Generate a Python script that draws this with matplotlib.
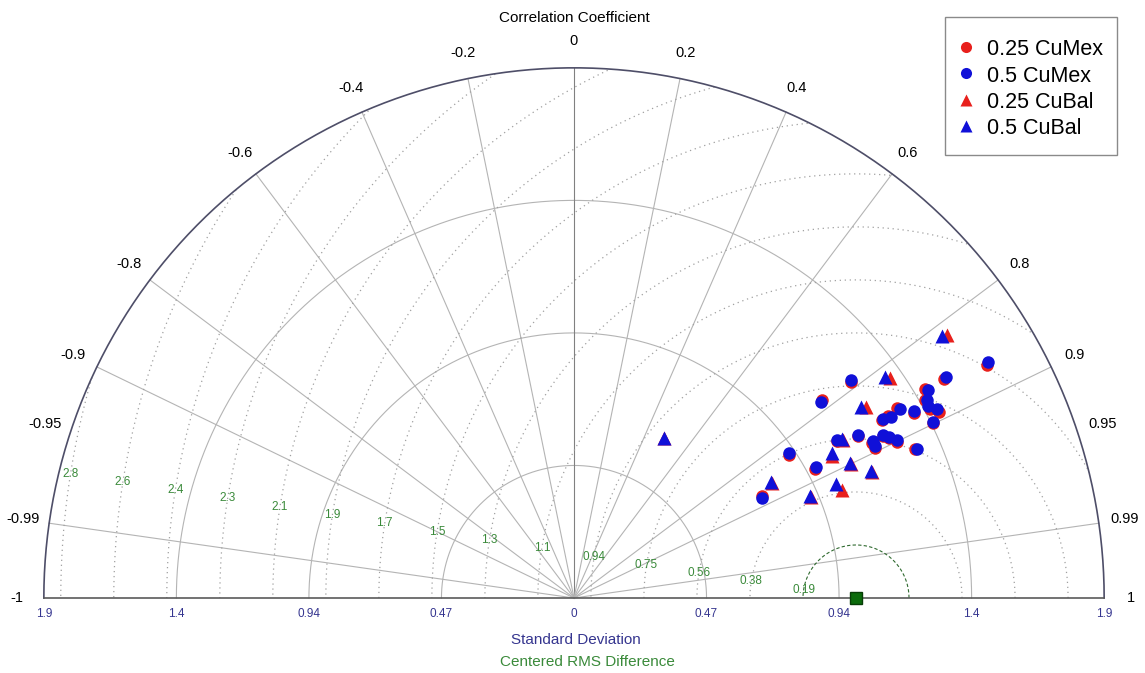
import matplotlib
matplotlib.use("Agg")
import matplotlib.pyplot as plt
import numpy as np
from matplotlib.patches import Rectangle, Wedge

plt.rcParams["font.family"] = ["Liberation Sans", "DejaVu Sans"]

# Diagram frame
STD_MAX = 1.88
REF_STD = 1.0
STD_ARCS = [0.47, 0.94, 1.41]
STD_TICKS = [-1.88, -1.41, -0.94, -0.47, 0.0, 0.47, 0.94, 1.41, 1.88]
STD_TICK_LABELS = ["1.9", "1.4", "0.94", "0.47", "0", "0.47", "0.94", "1.4", "1.9"]
CORR_TICKS = [-1, -0.99, -0.95, -0.9, -0.8, -0.6, -0.4, -0.2, 0,
              0.2, 0.4, 0.6, 0.8, 0.9, 0.95, 0.99, 1]
CORR_TICK_LABELS = ["-1", "-0.99", "-0.95", "-0.9", "-0.8", "-0.6", "-0.4", "-0.2", "0",
                    "0.2", "0.4", "0.6", "0.8", "0.9", "0.95", "0.99", "1"]
CORR_SPOKES = [-0.99, -0.9, -0.8, -0.6, -0.4, -0.2, 0, 0.2, 0.4, 0.6, 0.8, 0.9, 0.99]
RMS_STEP = 0.188
RMS_LABELS = ["0.19", "0.38", "0.56", "0.75", "0.94", "1.1", "1.3", "1.5",
              "1.7", "1.9", "2.1", "2.3", "2.4", "2.6", "2.8"]

SERIES_NAMES = ["0.25 CuMex", "0.5 CuMex", "0.25 CuBal", "0.5 CuBal"]

# 0.25 CuMex
cumex25_std = [1.680, 1.525, 1.244, 1.125, 1.447, 1.430, 1.431, 1.452, 1.415, 1.373,
               1.328, 1.287, 1.262, 1.159, 1.085, 1.190, 1.237, 1.252, 1.271, 1.193,
               1.319, 0.916, 0.969, 0.759]
cumex25_corr = [0.871, 0.861, 0.789, 0.782, 0.859, 0.871, 0.883, 0.891, 0.899, 0.879,
                0.862, 0.865, 0.866, 0.868, 0.859, 0.887, 0.886, 0.891, 0.900, 0.895,
                0.916, 0.832, 0.881, 0.878]

# 0.5 CuMex
cumex5_std = [1.690, 1.534, 1.250, 1.119, 1.457, 1.435, 1.428, 1.451, 1.418, 1.376,
              1.336, 1.295, 1.266, 1.161, 1.088, 1.197, 1.239, 1.255, 1.275, 1.196,
              1.326, 0.920, 0.976, 0.756]
cumex5_corr = [0.869, 0.860, 0.786, 0.783, 0.862, 0.872, 0.879, 0.887, 0.898, 0.876,
               0.865, 0.868, 0.865, 0.867, 0.857, 0.885, 0.885, 0.890, 0.898, 0.893,
               0.917, 0.828, 0.879, 0.882]

# 0.25 CuBal
cubal25_std = [1.619, 1.366, 1.237, 0.653, 1.108, 1.045, 1.092, 1.148, 0.812, 1.025, 0.915]
cubal25_corr = [0.817, 0.820, 0.837, 0.491, 0.862, 0.876, 0.900, 0.921, 0.864, 0.927, 0.920]

# 0.5 CuBal
cubal5_std = [1.602, 1.353, 1.223, 0.651, 1.105, 1.049, 1.090, 1.145, 0.811, 1.013, 0.912]
cubal5_corr = [0.815, 0.815, 0.832, 0.490, 0.860, 0.872, 0.898, 0.920, 0.862, 0.917, 0.918]

GRID = "#b4b4b4"
NAVY = "#35358f"
GREEN = "#3a8a3a"
RED = "#e8201c"
BLUE = "#1010d8"
STYLES = [("o", RED), ("o", BLUE), ("^", RED), ("^", BLUE)]


def to_xy(std, corr):
    std = np.asarray(std, dtype=float)
    corr = np.asarray(corr, dtype=float)
    theta = np.arccos(corr)
    return std * np.cos(theta), std * np.sin(theta)


def draw_frame(ax):
    t = np.linspace(0, np.pi, 400)
    clip = Wedge((0, 0), STD_MAX, 0, 180, transform=ax.transData)

    # std-dev arcs
    for s in STD_ARCS:
        ax.plot(s * np.cos(t), s * np.sin(t), color=GRID, lw=0.8, zorder=1)

    # correlation spokes
    for c in CORR_SPOKES:
        x, y = to_xy([0, STD_MAX], [c, c])
        col = "#808080" if c == 0 else GRID
        ax.plot(x, y, color=col, lw=0.8, zorder=1)

    # centred RMS circles around the reference
    tt = np.linspace(0, np.pi, 600)
    for k in range(1, len(RMS_LABELS) + 1):
        r = k * RMS_STEP
        if k == 1:
            ln, = ax.plot(REF_STD + r * np.cos(tt), r * np.sin(tt), color="#2f6a2f",
                          lw=0.8, ls=(0, (3, 2)), zorder=1)
        else:
            ln, = ax.plot(REF_STD + r * np.cos(tt), r * np.sin(tt), color="#a0a0a0",
                          lw=0.9, ls=(0, (1, 3)), zorder=1)
        ln.set_clip_path(clip)

    ang = np.deg2rad(171)
    for k, lab in enumerate(RMS_LABELS, start=1):
        r = k * RMS_STEP
        ax.text(REF_STD + r * np.cos(ang), r * np.sin(ang), lab, color=GREEN,
                fontsize=8.5, ha="center", va="center", zorder=2)

    # outer arc and base line
    ax.plot(STD_MAX * np.cos(t), STD_MAX * np.sin(t), color="#4e4e68", lw=1.2, zorder=3)
    ax.plot([-STD_MAX, STD_MAX], [0, 0], color="#5a5a5a", lw=1.2, zorder=3)

    for v, lab in zip(STD_TICKS, STD_TICK_LABELS):
        ax.text(v, -0.057, lab, color=NAVY, fontsize=8.5, ha="center", va="center")

    for c, lab in zip(CORR_TICKS, CORR_TICK_LABELS):
        x, y = to_xy(STD_MAX * 1.05, c)
        ax.text(x, y, lab, fontsize=10.5, ha="center", va="center")

    ax.text(0, 2.057, "Correlation Coefficient", fontsize=11, ha="center", va="center")
    ax.text(0.005, -0.149, "Standard Deviation", color=NAVY, fontsize=11,
            ha="center", va="center")
    ax.text(0.046, -0.227, "Centered RMS Difference", color=GREEN, fontsize=11,
            ha="center", va="center")


def draw_legend(fig):
    # pixel-space overlay for the key box
    lx = fig.add_axes([0, 0, 1, 1], zorder=10)
    lx.set_xlim(0, 1145)
    lx.set_ylim(673, 0)
    lx.axis("off")
    lx.add_patch(Rectangle((945, 17), 172, 138, facecolor="white",
                           edgecolor="#8a8a8a", lw=1.0))
    for i, (name, (mk, col)) in enumerate(zip(SERIES_NAMES, STYLES)):
        yc = 46.7 + 26.4 * i
        lx.plot([966], [yc], mk, color=col, ms=8, mec="none")
        lx.text(987, yc + 8.5, name, fontsize=15.5, ha="left", va="baseline")


def main():
    fig = plt.figure(figsize=(11.45, 6.73), dpi=100)
    ax = fig.add_axes([0, 0, 1, 1])
    ax.set_xlim(-574 / 282, 571 / 282)
    ax.set_ylim(-75 / 282, 598 / 282)
    ax.axis("off")

    draw_frame(ax)

    series = [(cumex25_std, cumex25_corr), (cumex5_std, cumex5_corr),
              (cubal25_std, cubal25_corr), (cubal5_std, cubal5_corr)]
    for z, ((std, corr), (mk, col)) in enumerate(zip(series, STYLES)):
        x, y = to_xy(std, corr)
        ax.plot(x, y, mk, color=col, ms=9 if mk == "o" else 10, mec="none", zorder=4 + z)

    # reference point
    ax.plot([REF_STD], [0], "s", color="#0b6b0b", ms=8, mec="#063d06", zorder=8, clip_on=False)

    draw_legend(fig)

    fig.savefig("out.png", dpi=100)


if __name__ == "__main__":
    main()
